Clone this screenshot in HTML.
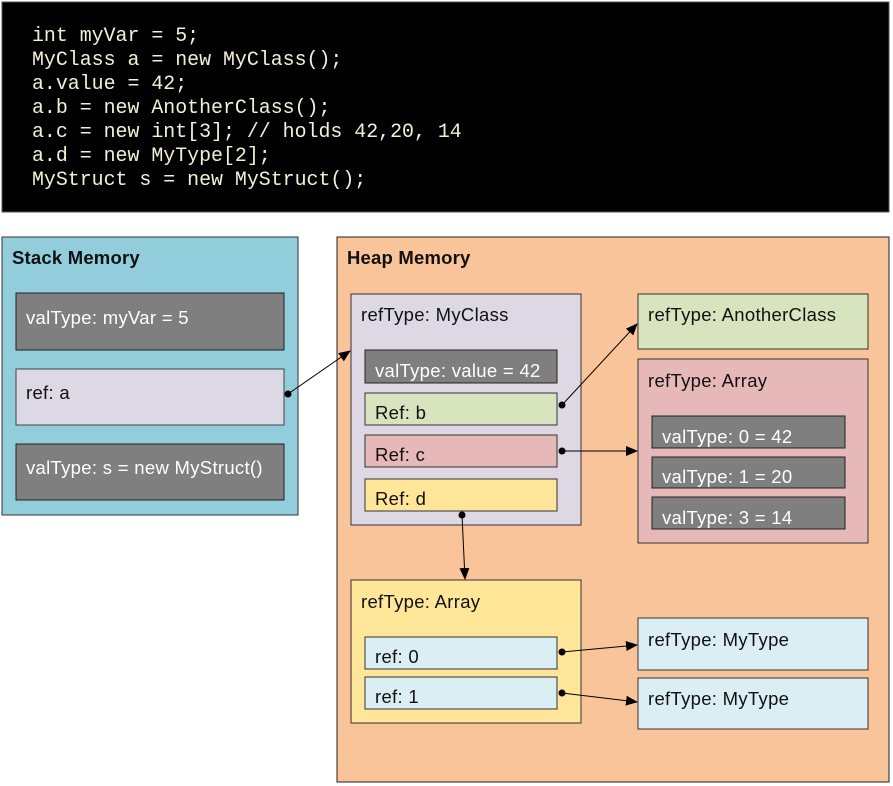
<!DOCTYPE html>
<html><head><meta charset="utf-8"><style>
html,body{margin:0;padding:0;background:#fff;}
svg{display:block;}
.t{font-family:"Liberation Sans",sans-serif;font-size:18.5px;fill:#111;letter-spacing:0.3px;}
.w{fill:#fff;}
.b{font-weight:bold;letter-spacing:0.2px;}
.c{font-family:"Liberation Mono",monospace;font-size:19.9px;fill:#f4efd8;}
</style></head><body>
<svg width="893" height="786" viewBox="0 0 893 786" xmlns="http://www.w3.org/2000/svg">
<defs>
<marker id="ar" markerWidth="12" markerHeight="10" refX="11" refY="5" orient="auto" markerUnits="userSpaceOnUse"><path d="M0,0 L12,5 L0,10 z" fill="#000"/></marker>
</defs>
<rect x="2" y="2" width="887" height="210" fill="#000" stroke="#555"/>
<text class="c" x="32" y="41">int myVar = 5;</text>
<text class="c" x="32" y="65">MyClass a = new MyClass();</text>
<text class="c" x="32" y="89">a.value = 42;</text>
<text class="c" x="32" y="113">a.b = new AnotherClass();</text>
<text class="c" x="32" y="137">a.c = new int[3]; // holds 42,20, 14</text>
<text class="c" x="32" y="161">a.d = new MyType[2];</text>
<text class="c" x="32" y="185">MyStruct s = new MyStruct();</text>

<rect x="2" y="237" width="296" height="278" fill="#92CDDC" stroke="#333"/>
<text class="t b" x="12" y="264">Stack Memory</text>
<rect x="16" y="293" width="268" height="57" fill="#7f7f7f" stroke="#222"/>
<text class="t w" x="26" y="324">valType: myVar = 5</text>
<rect x="16" y="369" width="268" height="56" fill="#DDD9E4" stroke="#444"/>
<text class="t" x="26" y="399">ref: a</text>
<rect x="16" y="444" width="268" height="56" fill="#7f7f7f" stroke="#222"/>
<text class="t w" x="26" y="474">valType: s = new MyStruct()</text>

<rect x="337" y="237" width="552" height="545" fill="#F9C49A" stroke="#222"/>
<text class="t b" x="347" y="264">Heap Memory</text>

<rect x="351" y="294" width="230" height="231" fill="#DDD8E4" stroke="#333"/>
<text class="t" x="361" y="321">refType: MyClass</text>
<rect x="365" y="350" width="192" height="33" fill="#7f7f7f" stroke="#222"/>
<text class="t w" x="375" y="377">valType: value = 42</text>
<rect x="365" y="393" width="192" height="32" fill="#D7E4BD" stroke="#333"/>
<text class="t" x="375" y="419">Ref: b</text>
<rect x="365" y="435" width="192" height="32" fill="#E6B9B8" stroke="#333"/>
<text class="t" x="375" y="461">Ref: c</text>
<rect x="365" y="479" width="192" height="32" fill="#FFE699" stroke="#333"/>
<text class="t" x="375" y="505">Ref: d</text>

<rect x="638" y="294" width="230" height="55" fill="#D7E4BD" stroke="#333"/>
<text class="t" x="648" y="321">refType: AnotherClass</text>

<rect x="638" y="359" width="230" height="184" fill="#E6B9B8" stroke="#333"/>
<text class="t" x="648" y="387">refType: Array</text>
<rect x="652" y="416" width="193" height="32" fill="#7f7f7f" stroke="#222"/>
<text class="t w" x="662" y="443">valType: 0 = 42</text>
<rect x="652" y="457" width="193" height="31" fill="#7f7f7f" stroke="#222"/>
<text class="t w" x="662" y="483">valType: 1 = 20</text>
<rect x="652" y="497" width="193" height="32" fill="#7f7f7f" stroke="#222"/>
<text class="t w" x="662" y="524">valType: 3 = 14</text>

<rect x="351" y="580" width="230" height="143" fill="#FFE699" stroke="#333"/>
<text class="t" x="361" y="608">refType: Array</text>
<rect x="365" y="637" width="192" height="32" fill="#DBEEF4" stroke="#333"/>
<text class="t" x="375" y="663">ref: 0</text>
<rect x="365" y="677" width="192" height="32" fill="#DBEEF4" stroke="#333"/>
<text class="t" x="375" y="703">ref: 1</text>

<rect x="638" y="618" width="230" height="52" fill="#DBEEF4" stroke="#333"/>
<text class="t" x="648" y="646">refType: MyType</text>
<rect x="638" y="678" width="230" height="51" fill="#DBEEF4" stroke="#333"/>
<text class="t" x="648" y="705">refType: MyType</text>

<g stroke="#000" stroke-width="1" fill="none">
<line x1="288" y1="394" x2="350" y2="351" marker-end="url(#ar)"/>
<line x1="562" y1="405" x2="637" y2="324" marker-end="url(#ar)"/>
<line x1="562" y1="451" x2="637" y2="451" marker-end="url(#ar)"/>
<line x1="462" y1="515" x2="465" y2="579" marker-end="url(#ar)"/>
<line x1="562" y1="652" x2="637" y2="645" marker-end="url(#ar)"/>
<line x1="562" y1="693" x2="637" y2="702" marker-end="url(#ar)"/>
</g>
<g fill="#000">
<circle cx="288" cy="394" r="3.5"/>
<circle cx="562" cy="405" r="3.5"/>
<circle cx="562" cy="451" r="3.5"/>
<circle cx="462" cy="515" r="3.5"/>
<circle cx="562" cy="652" r="3.5"/>
<circle cx="562" cy="693" r="3.5"/>
</g>
</svg>
</body></html>
